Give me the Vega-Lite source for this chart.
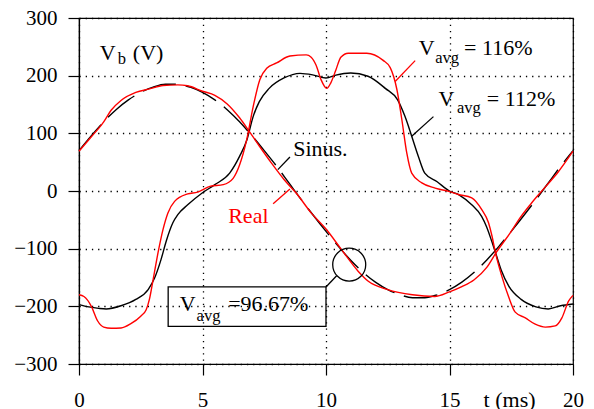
{
  "$schema": "https://vega.github.io/schema/vega-lite/v6.json",
  "autosize": "none",
  "width": 494,
  "height": 346,
  "padding": {"left": 79, "top": 18, "right": 21, "bottom": 45},
  "background": "white",
  "datasets": {
    "sinus": [
      {"t": 0, "v": 70}, {"t": 0.5, "v": 96}, {"t": 1, "v": 120}, {"t": 1.5, "v": 141}, {"t": 2, "v": 158},
      {"t": 2.5, "v": 171}, {"t": 3, "v": 180}, {"t": 3.5, "v": 185}, {"t": 4, "v": 185}, {"t": 4.5, "v": 180},
      {"t": 5, "v": 171}, {"t": 5.5, "v": 158}, {"t": 6, "v": 141}, {"t": 6.5, "v": 120}, {"t": 7, "v": 96},
      {"t": 7.5, "v": 70}, {"t": 8, "v": 43}, {"t": 8.5, "v": 14}, {"t": 9, "v": -15}, {"t": 9.5, "v": -43},
      {"t": 10, "v": -70}, {"t": 10.5, "v": -96}, {"t": 11, "v": -120}, {"t": 11.5, "v": -141}, {"t": 12, "v": -158},
      {"t": 12.5, "v": -171}, {"t": 13, "v": -180}, {"t": 13.5, "v": -185}, {"t": 14, "v": -185}, {"t": 14.5, "v": -180},
      {"t": 15, "v": -171}, {"t": 15.5, "v": -158}, {"t": 16, "v": -141}, {"t": 16.5, "v": -120}, {"t": 17, "v": -96},
      {"t": 17.5, "v": -70}, {"t": 18, "v": -43}, {"t": 18.5, "v": -15}, {"t": 19, "v": 14}, {"t": 19.5, "v": 43},
      {"t": 20, "v": 70}
    ],
    "real": [
      {"t": 0, "v": 69}, {"t": 0.5, "v": 94}, {"t": 1, "v": 120}, {"t": 1.3, "v": 140}, {"t": 1.7, "v": 157},
      {"t": 2.3, "v": 171}, {"t": 2.85, "v": 177}, {"t": 3.4, "v": 183}, {"t": 4, "v": 184}, {"t": 4.4, "v": 182.5},
      {"t": 5, "v": 173}, {"t": 5.5, "v": 166}, {"t": 6, "v": 151}, {"t": 6.5, "v": 127}, {"t": 6.9, "v": 103},
      {"t": 7.3, "v": 78}, {"t": 7.8, "v": 48}, {"t": 8.3, "v": 20}, {"t": 8.8, "v": -4}, {"t": 9.4, "v": -38},
      {"t": 10, "v": -66}, {"t": 10.6, "v": -100}, {"t": 11.3, "v": -139}, {"t": 11.7, "v": -156}, {"t": 12.5, "v": -171},
      {"t": 13.5, "v": -180}, {"t": 14.4, "v": -183}, {"t": 15, "v": -175}, {"t": 15.5, "v": -166}, {"t": 16, "v": -154},
      {"t": 16.5, "v": -133}, {"t": 16.9, "v": -106}, {"t": 17.5, "v": -70}, {"t": 17.8, "v": -50}, {"t": 18.3, "v": -22},
      {"t": 18.9, "v": 8}, {"t": 19.4, "v": 33}, {"t": 20, "v": 69}
    ],
    "avg112": [
      {"t": 0, "v": -197}, {"t": 0.4, "v": -201}, {"t": 0.8, "v": -203.5}, {"t": 1.1, "v": -204.5}, {"t": 1.7, "v": -199},
      {"t": 2.3, "v": -188}, {"t": 2.8, "v": -171}, {"t": 3.06, "v": -151}, {"t": 3.32, "v": -119}, {"t": 3.53, "v": -87},
      {"t": 3.8, "v": -55}, {"t": 4, "v": -41}, {"t": 4.4, "v": -24}, {"t": 5, "v": -3}, {"t": 5.5, "v": 11},
      {"t": 6.1, "v": 31}, {"t": 6.5, "v": 60}, {"t": 6.8, "v": 89}, {"t": 7.05, "v": 129}, {"t": 7.3, "v": 155},
      {"t": 7.7, "v": 178}, {"t": 8.3, "v": 196}, {"t": 8.95, "v": 204}, {"t": 9.5, "v": 201}, {"t": 10, "v": 196},
      {"t": 10.4, "v": 201}, {"t": 11, "v": 204.5}, {"t": 11.7, "v": 199}, {"t": 12.4, "v": 178}, {"t": 12.9, "v": 158},
      {"t": 13.2, "v": 129}, {"t": 13.47, "v": 95}, {"t": 13.74, "v": 60}, {"t": 14, "v": 31}, {"t": 14.5, "v": 16},
      {"t": 15, "v": 0}, {"t": 15.4, "v": -7}, {"t": 15.9, "v": -24}, {"t": 16.3, "v": -44}, {"t": 16.5, "v": -62},
      {"t": 16.7, "v": -86}, {"t": 16.9, "v": -112}, {"t": 17.1, "v": -138}, {"t": 17.4, "v": -165}, {"t": 17.9, "v": -188},
      {"t": 18.5, "v": -201}, {"t": 19, "v": -204.5}, {"t": 19.5, "v": -199}, {"t": 20, "v": -196}
    ],
    "avg116": [
      {"t": 0, "v": -180}, {"t": 0.2, "v": -183}, {"t": 0.5, "v": -200}, {"t": 0.75, "v": -225}, {"t": 1, "v": -236},
      {"t": 1.3, "v": -238}, {"t": 1.7, "v": -237.5}, {"t": 2.1, "v": -230}, {"t": 2.5, "v": -217}, {"t": 2.72, "v": -206},
      {"t": 2.85, "v": -188}, {"t": 3, "v": -154}, {"t": 3.2, "v": -107}, {"t": 3.4, "v": -67}, {"t": 3.6, "v": -38},
      {"t": 3.87, "v": -18}, {"t": 4.4, "v": -5}, {"t": 4.8, "v": -2}, {"t": 5.3, "v": 8}, {"t": 5.84, "v": 11},
      {"t": 6.24, "v": 22}, {"t": 6.5, "v": 45}, {"t": 6.79, "v": 89}, {"t": 7.05, "v": 146}, {"t": 7.32, "v": 193},
      {"t": 7.6, "v": 213}, {"t": 8, "v": 222}, {"t": 8.54, "v": 234}, {"t": 9.2, "v": 236}, {"t": 9.4, "v": 232},
      {"t": 9.6, "v": 218}, {"t": 9.8, "v": 193}, {"t": 10.03, "v": 178}, {"t": 10.2, "v": 188}, {"t": 10.4, "v": 210},
      {"t": 10.6, "v": 232}, {"t": 10.9, "v": 239}, {"t": 11.65, "v": 239}, {"t": 12.3, "v": 227}, {"t": 12.6, "v": 214},
      {"t": 12.87, "v": 176}, {"t": 13.07, "v": 124}, {"t": 13.27, "v": 66}, {"t": 13.47, "v": 31}, {"t": 13.88, "v": 14},
      {"t": 14.42, "v": 5}, {"t": 15, "v": -1}, {"t": 15.36, "v": -6}, {"t": 15.9, "v": -12}, {"t": 16.3, "v": -32},
      {"t": 16.58, "v": -55}, {"t": 16.72, "v": -78}, {"t": 16.85, "v": -105}, {"t": 17.12, "v": -148}, {"t": 17.39, "v": -183},
      {"t": 17.66, "v": -210}, {"t": 18.07, "v": -220}, {"t": 18.47, "v": -231}, {"t": 18.88, "v": -236}, {"t": 19.28, "v": -234},
      {"t": 19.55, "v": -220}, {"t": 19.82, "v": -191}, {"t": 20, "v": -181}
    ],
    "blackLeaders": [
      {"t": 14.35, "v": 129, "t2": 13.47, "v2": 95},
      {"t": 8.54, "v": 59, "t2": 8.05, "v2": 37},
      {"t": 10.0, "v": -166.4, "t2": 10.43, "v2": -147}
    ],
    "redLeaders": [
      {"t": 13.61, "v": 226, "t2": 12.8, "v2": 190},
      {"t": 7.86, "v": -22, "t2": 8.54, "v2": 3.5}
    ],
    "marker": [{"t": 10.94, "v": -127.7}],
    "box": [{"t": 3.61, "v": -166.4, "t2": 10.0, "v2": -234.7}],
    "labels": [
      {"t": 0.84, "v": 227.6, "label": "V"},
      {"t": 2.18, "v": 227.6, "label": "(V)"},
      {"t": 13.75, "v": 236.2, "label": "V"},
      {"t": 15.59, "v": 236.2, "label": "= 116%"},
      {"t": 14.55, "v": 147.8, "label": "V"},
      {"t": 16.51, "v": 147.8, "label": "= 112%"},
      {"t": 8.67, "v": 61.2, "label": "Sinus."},
      {"t": 4.08, "v": -207.5, "label": "V"},
      {"t": 6.04, "v": -207.5, "label": "=96.67%"},
      {"t": 16.38, "v": -373.8, "label": "t (ms)"}
    ],
    "subscripts": [
      {"t": 1.57, "v": 220.6, "label": "b"},
      {"t": 14.42, "v": 222.4, "label": "avg"},
      {"t": 15.3, "v": 135.2, "label": "avg"},
      {"t": 4.76, "v": -226, "label": "avg"}
    ],
    "redLabels": [
      {"t": 6.04, "v": -55.5, "label": "Real"}
    ]
  },
  "encoding": {
    "x": {
      "field": "t", "type": "quantitative",
      "scale": {"domain": [0, 20], "nice": false, "zero": false},
      "axis": {"values": [0, 5, 10, 15, 20], "labelPadding": 31, "labelBaseline": "alphabetic"}
    },
    "y": {
      "field": "v", "type": "quantitative",
      "scale": {"domain": [-300, 300], "nice": false, "zero": false},
      "axis": {"values": [-300, -200, -100, 0, 100, 200, 300], "labelPadding": 11}
    }
  },
  "layer": [
    {
      "data": {"name": "sinus"},
      "mark": {"type": "line", "color": "#000", "strokeWidth": 1.4, "strokeDash": [34, 10], "interpolate": "monotone"}
    },
    {
      "data": {"name": "avg112"},
      "mark": {"type": "line", "color": "#000", "strokeWidth": 1.4, "interpolate": "monotone"}
    },
    {
      "data": {"name": "real"},
      "mark": {"type": "line", "color": "#ff0000", "strokeWidth": 1.4, "interpolate": "monotone"}
    },
    {
      "data": {"name": "avg116"},
      "mark": {"type": "line", "color": "#ff0000", "strokeWidth": 1.4, "interpolate": "monotone"}
    },
    {
      "data": {"name": "blackLeaders"},
      "mark": {"type": "rule", "color": "#000", "strokeWidth": 1.3},
      "encoding": {"x2": {"field": "t2"}, "y2": {"field": "v2"}}
    },
    {
      "data": {"name": "redLeaders"},
      "mark": {"type": "rule", "color": "#ff0000", "strokeWidth": 1.3},
      "encoding": {"x2": {"field": "t2"}, "y2": {"field": "v2"}}
    },
    {
      "data": {"name": "marker"},
      "mark": {"type": "point", "shape": "circle", "size": 1089, "filled": false, "stroke": "#000", "strokeWidth": 1.3, "opacity": 1}
    },
    {
      "data": {"name": "box"},
      "mark": {"type": "rect", "fill": "#fff", "fillOpacity": 0, "stroke": "#000", "strokeWidth": 1.3},
      "encoding": {"x2": {"field": "t2"}, "y2": {"field": "v2"}}
    },
    {
      "data": {"name": "labels"},
      "mark": {"type": "text", "font": "'Liberation Serif', 'Times New Roman', 'Liberation Sans', sans-serif", "fontSize": 22, "color": "#000", "align": "left", "baseline": "alphabetic"},
      "encoding": {"text": {"field": "label"}}
    },
    {
      "data": {"name": "subscripts"},
      "mark": {"type": "text", "font": "'Liberation Serif', 'Times New Roman', 'Liberation Sans', sans-serif", "fontSize": 16.5, "color": "#000", "align": "left", "baseline": "alphabetic"},
      "encoding": {"text": {"field": "label"}}
    },
    {
      "data": {"name": "redLabels"},
      "mark": {"type": "text", "font": "'Liberation Serif', 'Times New Roman', 'Liberation Sans', sans-serif", "fontSize": 22, "color": "#ff0000", "align": "left", "baseline": "alphabetic"},
      "encoding": {"text": {"field": "label"}}
    }
  ],
  "config": {
    "view": {"stroke": "#000", "strokeWidth": 1.2},
    "axis": {
      "title": null,
      "domainColor": "#000", "domainWidth": 1.2,
      "tickColor": "#000", "tickWidth": 1.2, "tickSize": 11,
      "labelFont": "'Liberation Serif', 'Times New Roman', 'Liberation Sans', sans-serif", "labelFontSize": 21, "labelColor": "#000",
      "labelFlush": false, "labelOverlap": false, "labelBound": false,
      "grid": true, "gridColor": "#000", "gridOpacity": 1, "gridWidth": 1.3, "gridDash": [1.3, 4.9]
    }
  }
}
